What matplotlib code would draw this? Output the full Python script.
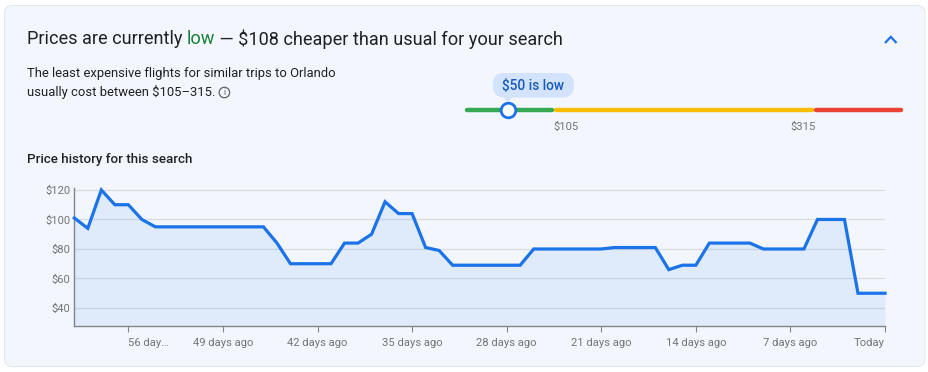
import numpy as np
import matplotlib
matplotlib.use("Agg")
import matplotlib.pyplot as plt
from matplotlib.patches import FancyBboxPatch, Ellipse, Polygon
from matplotlib.lines import Line2D

# ---------------- data ----------------
days_ago = list(range(-60, 1))
prices = [101, 94, 120, 110, 110, 100, 95,
          95, 95, 95, 95, 95, 95, 95, 95,
          84,
          70, 70, 70, 70,
          84, 84, 90, 112, 104, 104, 81,
          79,
          69, 69, 69, 69, 69, 69,
          80, 80, 80, 80, 80, 80,
          81, 81, 81, 81,
          66, 69, 69,
          84, 84, 84, 84,
          80, 80, 80, 80,
          100, 100, 100,
          50, 50, 50]
y_ticks = [40, 60, 80, 100, 120]
y_tick_labels = ["$40", "$60", "$80", "$100", "$120"]
x_ticks = [-56, -49, -42, -35, -28, -21, -14, -7, 0]
x_tick_labels = ["56 day…", "49 days ago", "42 days ago", "35 days ago",
                 "28 days ago", "21 days ago", "14 days ago", "7 days ago", "Today"]
range_low = 105
range_high = 315
current_price = 50
cheaper_by = 108
destination = "Orlando"

# ---------------- layout helpers ----------------
W, H = 929, 372
fig = plt.figure(figsize=(W / 100, H / 100), dpi=100)
fig.patch.set_facecolor("white")

def fx(x):
    return x / W

def fy(y):
    return 1 - y / H

BG = "#f3f7fd"
BLUE = "#1a73e8"
GREY = "#70757a"
DARK = "#202124"
FONT = ["Roboto", "DejaVu Sans"]

# panel (in an axes that uses pixel units)
pax = fig.add_axes([0, 0, 1, 1], zorder=-5)
pax.set_xlim(0, W)
pax.set_ylim(H, 0)
pax.axis("off")
pax.add_patch(FancyBboxPatch((4.5, 5.5), 920.5, 361.0,
                             boxstyle="round,pad=0,rounding_size=8",
                             facecolor=BG, edgecolor="#e3e8f0", linewidth=0.8))

# ---------------- title ----------------
renderer = fig.canvas.get_renderer()
parts = [("Prices are currently ", DARK), ("low", "#188038"),
         (f" — ${cheaper_by} cheaper than usual for your search", DARK)]
x = fx(27)
for txt, col in parts:
    t = fig.text(x, fy(39), txt, color=col, fontsize=13.05, family=FONT,
                 va="center", ha="left")
    bb = t.get_window_extent(renderer=renderer)
    x += bb.width / W

# caret
pax.add_line(Line2D([885, 890.8, 896.5], [43, 36.8, 43], color=BLUE, lw=1.6,
                    solid_capstyle="butt", solid_joinstyle="miter"))

# subtitle
fig.text(fx(27), fy(73), f"The least expensive flights for similar trips to {destination}",
         color=DARK, fontsize=9.4, family=FONT, va="center", ha="left")
t2 = fig.text(fx(27), fy(92), f"usually cost between ${range_low}–{range_high}.",
              color=DARK, fontsize=9.4, family=FONT, va="center", ha="left")
bb2 = t2.get_window_extent(renderer=renderer)
cx = bb2.x1 + 9
pax.add_patch(Ellipse((cx, 92.5), 10.5, 10.5, facecolor="none",
                      edgecolor="#5f6368", lw=0.9))
pax.text(cx, 92.8, "i", color="#5f6368", fontsize=6.3, family=FONT,
         va="center", ha="center")

fig.text(fx(27), fy(159), "Price history for this search", color=DARK,
         fontsize=9.6, family=FONT, fontweight="medium", va="center", ha="left")

# ---------------- range bar (pixel-unit axes) ----------------
rax = fig.add_axes([0, 0, 1, 1], zorder=2)
rax.set_xlim(0, W)
rax.set_ylim(H, 0)
rax.axis("off")
price_breaks = [0, range_low, range_high, 420]
px_breaks = [466, 554, 814.5, 903]
def pos(p):
    return float(np.interp(p, price_breaks, px_breaks))
seg_colors = ["#34a853", "#fbbc04", "#ea4335"]
gap = 2.0
for i, col in enumerate(seg_colors):
    a = pos(price_breaks[i]) + (gap if i > 0 else 1.5)
    b = pos(price_breaks[i + 1]) - (gap if i < 2 else 1.5)
    rax.plot([a, b], [110, 110], color=col, lw=3.2, solid_capstyle="round")
mx = pos(current_price)
rax.plot([mx], [110], marker="o", ms=10.5, mfc="white", mec=BLUE, mew=2.0, zorder=5)
# bubble
bub_l, bub_r = mx - 15, mx + 66
rax.add_patch(FancyBboxPatch((bub_l, 73), bub_r - bub_l, 24.5,
                             boxstyle="round,pad=0,rounding_size=11",
                             facecolor="#d3e3fd", edgecolor="none"))
rax.add_patch(Polygon([[mx - 4.5, 97], [mx + 4.5, 97], [mx, 102]],
                      closed=True, facecolor="#d3e3fd", edgecolor="none"))
rax.text((bub_l + bub_r) / 2, 86, f"${current_price} is low", color="#185abc",
         fontsize=9.8, family=FONT, fontweight="medium", ha="center", va="center")
rax.text(pos(range_low) - 1, 127, f"${range_low}", color=GREY, fontsize=8.1,
         family=FONT, ha="left", va="center")
rax.text(pos(range_high) + 1, 127, f"${range_high}", color=GREY, fontsize=8.1,
         family=FONT, ha="right", va="center")

# ---------------- price history chart ----------------
ax = fig.add_axes([fx(74.3), fy(325.7), fx(885 - 74.3), (325.7 - 188.5) / H], zorder=1)
ax.set_facecolor("none")
ax.set_xlim(-60, 0)
ax.set_ylim(28, 121)
ax.fill_between(days_ago, prices, 28, color=BLUE, alpha=0.09, lw=0)
ax.plot(days_ago, prices, color=BLUE, lw=2.3, solid_joinstyle="miter", zorder=3,
        clip_on=False)
ax.set_yticks(y_ticks)
ax.set_yticklabels(y_tick_labels)
ax.set_xticks(x_ticks)
ax.set_xticklabels(x_tick_labels)
for i, lab in enumerate(ax.get_xticklabels()):
    if i == 0:
        lab.set_ha("left")
    elif i == len(x_ticks) - 1:
        lab.set_ha("right")
ax.grid(axis="y", color="#dadce0", lw=0.9)
ax.set_axisbelow(True)
for s in ["top", "right"]:
    ax.spines[s].set_visible(False)
for s in ["left", "bottom"]:
    ax.spines[s].set_color("#80868b")
    ax.spines[s].set_linewidth(1.0)
ax.tick_params(axis="y", length=0, pad=3, labelcolor=GREY, labelsize=8.1)
ax.tick_params(axis="x", length=4, width=0.8, color="#80868b", pad=4.5,
               labelcolor=GREY, labelsize=8.1)
for lab in ax.get_xticklabels() + ax.get_yticklabels():
    lab.set_family(FONT)

fig.savefig("out.png", dpi=100, facecolor="white")
